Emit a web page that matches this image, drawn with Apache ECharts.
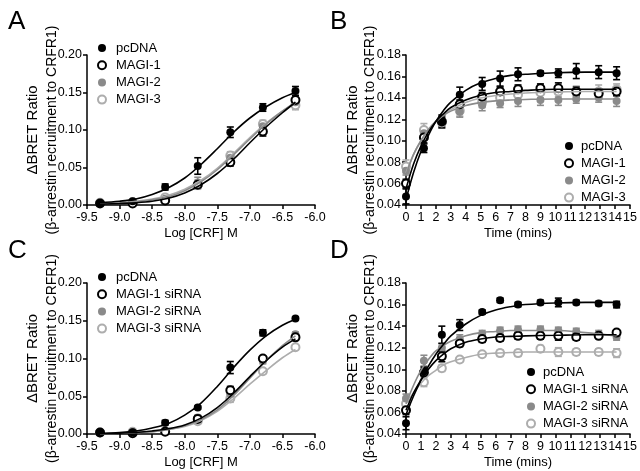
<html>
<head>
<meta charset="utf-8">
<title>BRET</title>
<script src="https://cdn.jsdelivr.net/npm/echarts@6/dist/echarts.min.js"></script>
<style>
  html, body { margin: 0; padding: 0; background: #fff; }
  #main { width: 640px; height: 471px; }
</style>
</head>
<body>
<div id="main"></div>
<script type="text/javascript">
// x values of the measured points
var doseX = [-9.3, -8.8, -8.3, -7.8, -7.3, -6.8, -6.3];
var timeX = [0, 1.2, 2.4, 3.6, 5.1, 6.3, 7.5, 9.0, 10.2, 11.4, 12.9, 14.1];
// x values where the fitted curves were read
var fitDoseX = [-9.3, -9.0, -8.75, -8.5, -8.25, -8.0, -7.75, -7.5, -7.25, -7.0, -6.75, -6.5, -6.3];
var fitTimeX = [0, 0.5, 1, 1.5, 2, 2.5, 3, 4, 5, 6, 7, 8, 10, 12, 14.1];

// panel A - dose response, overexpression
var aPcdna = [0.002, 0.005, 0.024, 0.052, 0.097, 0.130, 0.152];
var aPcdnaErr = [0.001, 0.002, 0.004, 0.011, 0.007, 0.005, 0.006];
var aMagi1 = [0.002, 0.002, 0.006, 0.027, 0.057, 0.098, 0.140];
var aMagi1Err = [0.001, 0.001, 0.002, 0.004, 0.005, 0.006, 0.006];
var aMagi2 = [0.002, 0.003, 0.008, 0.030, 0.063, 0.105, 0.137];
var aMagi2Err = [0.001, 0.001, 0.003, 0.007, 0.005, 0.005, 0.005];
var aMagi3 = [0.003, 0.004, 0.010, 0.027, 0.066, 0.108, 0.133];
var aMagi3Err = [0.001, 0.001, 0.004, 0.006, 0.005, 0.005, 0.006];
var aPcdnaFit = [0.003, 0.005, 0.008, 0.014, 0.023, 0.036, 0.054, 0.075, 0.097, 0.116, 0.131, 0.143, 0.150];
var aMagi1Fit = [0.001, 0.002, 0.003, 0.005, 0.009, 0.016, 0.027, 0.042, 0.061, 0.083, 0.104, 0.123, 0.137];
var aMagi2Fit = [0.002, 0.003, 0.004, 0.007, 0.011, 0.019, 0.031, 0.047, 0.067, 0.088, 0.108, 0.125, 0.137];
var aMagi3Fit = [0.002, 0.003, 0.005, 0.008, 0.013, 0.021, 0.033, 0.049, 0.069, 0.090, 0.109, 0.125, 0.136];

// panel B - time course, overexpression
var bPcdna = [0.048, 0.093, 0.118, 0.143, 0.153, 0.158, 0.162, 0.163, 0.163, 0.165, 0.164, 0.163];
var bPcdnaErr = [0.007, 0.004, 0.006, 0.007, 0.006, 0.007, 0.006, 0.002, 0.004, 0.007, 0.006, 0.006];
var bMagi1 = [0.060, 0.103, 0.118, 0.134, 0.141, 0.146, 0.148, 0.149, 0.149, 0.146, 0.144, 0.146];
var bMagi1Err = [0.004, 0.005, 0.004, 0.004, 0.004, 0.004, 0.004, 0.004, 0.005, 0.004, 0.004, 0.004];
var bMagi2 = [0.072, 0.107, 0.118, 0.127, 0.133, 0.135, 0.137, 0.138, 0.138, 0.139, 0.140, 0.137];
var bMagi2Err = [0.004, 0.005, 0.005, 0.005, 0.005, 0.004, 0.005, 0.005, 0.005, 0.004, 0.004, 0.005];
var bMagi3 = [0.076, 0.110, 0.117, 0.128, 0.136, 0.140, 0.143, 0.145, 0.146, 0.146, 0.146, 0.148];
var bMagi3Err = [0.006, 0.006, 0.005, 0.005, 0.005, 0.005, 0.005, 0.005, 0.005, 0.005, 0.006, 0.005];
var bPcdnaFit = [0.045, 0.070, 0.090, 0.105, 0.118, 0.128, 0.136, 0.147, 0.154, 0.158, 0.161, 0.162, 0.1635, 0.164, 0.164];
var bMagi1Fit = [0.055, 0.078, 0.095, 0.108, 0.118, 0.125, 0.131, 0.138, 0.1425, 0.145, 0.146, 0.147, 0.148, 0.148, 0.148];
var bMagi2Fit = [0.068, 0.087, 0.100, 0.1105, 0.118, 0.1235, 0.1276, 0.1328, 0.1356, 0.1372, 0.138, 0.1385, 0.139, 0.139, 0.139];
var bMagi3Fit = [0.070, 0.087, 0.100, 0.110, 0.118, 0.124, 0.129, 0.1357, 0.1398, 0.1422, 0.1436, 0.1446, 0.1455, 0.146, 0.146];

// panel C - dose response, siRNA
var cPcdna = [0.002, 0.002, 0.015, 0.035, 0.088, 0.134, 0.153];
var cPcdnaErr = [0.001, 0.001, 0.003, 0.002, 0.008, 0.004, 0.002];
var cMagi1 = [0.002, 0.001, 0.003, 0.020, 0.058, 0.100, 0.128];
var cMagi1Err = [0.001, 0.001, 0.002, 0.003, 0.005, 0.003, 0.003];
var cMagi2 = [0.001, 0.002, 0.004, 0.022, 0.053, 0.097, 0.132];
var cMagi2Err = [0.001, 0.001, 0.002, 0.003, 0.005, 0.004, 0.003];
var cMagi3 = [0.002, 0.003, 0.004, 0.017, 0.047, 0.083, 0.115];
var cMagi3Err = [0.001, 0.001, 0.002, 0.003, 0.005, 0.003, 0.003];
var cPcdnaFit = [0.001, 0.002, 0.004, 0.008, 0.014, 0.025, 0.041, 0.063, 0.088, 0.111, 0.130, 0.144, 0.152];
var cMagi1Fit = [0.000, 0.001, 0.002, 0.004, 0.007, 0.012, 0.021, 0.035, 0.054, 0.076, 0.097, 0.115, 0.126];
var cMagi2Fit = [0.000, 0.001, 0.002, 0.003, 0.006, 0.011, 0.019, 0.032, 0.051, 0.074, 0.097, 0.117, 0.130];
var cMagi3Fit = [0.000, 0.001, 0.002, 0.003, 0.006, 0.010, 0.018, 0.030, 0.047, 0.066, 0.084, 0.101, 0.112];

// panel D - time course, siRNA
var dPcdna = [0.050, 0.098, 0.132, 0.141, 0.153, 0.164, 0.160, 0.162, 0.162, 0.162, 0.161, 0.160];
var dPcdnaErr = [0.006, 0.004, 0.008, 0.005, 0.002, 0.002, 0.002, 0.002, 0.004, 0.002, 0.002, 0.003];
var dMagi1 = [0.062, 0.097, 0.112, 0.124, 0.128, 0.129, 0.131, 0.131, 0.131, 0.130, 0.131, 0.134];
var dMagi1Err = [0.004, 0.003, 0.005, 0.003, 0.003, 0.003, 0.003, 0.003, 0.004, 0.003, 0.002, 0.002];
var dMagi2 = [0.073, 0.108, 0.120, 0.128, 0.133, 0.136, 0.137, 0.137, 0.136, 0.135, 0.133, 0.130];
var dMagi2Err = [0.004, 0.005, 0.004, 0.004, 0.003, 0.003, 0.003, 0.003, 0.003, 0.003, 0.003, 0.003];
var dMagi3 = [0.068, 0.088, 0.101, 0.109, 0.114, 0.115, 0.115, 0.119, 0.116, 0.116, 0.116, 0.115];
var dMagi3Err = [0.005, 0.004, 0.003, 0.002, 0.002, 0.003, 0.003, 0.003, 0.004, 0.003, 0.003, 0.004];
var dPcdnaFit = [0.058, 0.075, 0.090, 0.103, 0.114, 0.123, 0.131, 0.142, 0.150, 0.155, 0.158, 0.160, 0.1615, 0.162, 0.162];
var dMagi1Fit = [0.062, 0.078, 0.090, 0.100, 0.108, 0.114, 0.119, 0.125, 0.128, 0.130, 0.1305, 0.131, 0.1315, 0.132, 0.132];
var dMagi2Fit = [0.068, 0.085, 0.099, 0.109, 0.117, 0.122, 0.126, 0.131, 0.134, 0.135, 0.136, 0.136, 0.136, 0.134, 0.131];
var dMagi3Fit = [0.068, 0.078, 0.087, 0.094, 0.099, 0.104, 0.107, 0.111, 0.114, 0.115, 0.1155, 0.116, 0.116, 0.116, 0.116];

var namesA = ['pcDNA', 'MAGI-1', 'MAGI-2', 'MAGI-3'];
var namesC = ['pcDNA', 'MAGI-1 siRNA', 'MAGI-2 siRNA', 'MAGI-3 siRNA'];

var FONT = '"Liberation Sans", Arial, sans-serif';
// marker look per group: pcDNA, MAGI-1, MAGI-2, MAGI-3
var looks = [
    { color: '#000', fill: '#000' },
    { color: '#000', fill: '#fff' },
    { color: '#8a8a8a', fill: '#8a8a8a' },
    { color: '#adadad', fill: '#fff' }
];

function zip(xs, ys, es) {
    var out = [];
    for (var i = 0; i < xs.length; i++) {
        out.push(es ? [xs[i], ys[i], es[i]] : [xs[i], ys[i]]);
    }
    return out;
}

function errRender(color) {
    return function (params, api) {
        var x = api.value(0), y = api.value(1), e = api.value(2);
        var p1 = api.coord([x, y + e]);
        var p2 = api.coord([x, y - e]);
        var w = 3.5;
        var st = { stroke: color, lineWidth: 1.6 };
        return {
            type: 'group',
            children: [
                { type: 'line', shape: { x1: p1[0], y1: p1[1], x2: p2[0], y2: p2[1] }, style: st },
                { type: 'line', shape: { x1: p1[0] - w, y1: p1[1], x2: p1[0] + w, y2: p1[1] }, style: st },
                { type: 'line', shape: { x1: p2[0] - w, y1: p2[1], x2: p2[0] + w, y2: p2[1] }, style: st }
            ]
        };
    };
}

var series = [];
function addPanel(idx, names, xs, fitXs, means, errs, fits) {
    // draw light groups first so pcDNA sits on top
    for (var g = 3; g >= 0; g--) {
        var lk = looks[g];
        series.push({
            name: names[g] + ' fit', type: 'line', xAxisIndex: idx, yAxisIndex: idx,
            data: zip(fitXs, fits[g]), smooth: 0.35, showSymbol: false, silent: true,
            lineStyle: { color: lk.color, width: 1.6 }
        });
        series.push({
            name: names[g] + ' err', type: 'custom', xAxisIndex: idx, yAxisIndex: idx,
            data: zip(xs, means[g], errs[g]), renderItem: errRender(lk.color), silent: true
        });
        series.push({
            name: names[g], type: 'scatter', xAxisIndex: idx, yAxisIndex: idx,
            data: zip(xs, means[g]), symbol: 'circle', symbolSize: 8,
            itemStyle: { color: lk.fill, borderColor: lk.color, borderWidth: lk.fill === '#fff' ? 2 : 0, opacity: 1 }
        });
    }
}

addPanel(0, namesA, doseX, fitDoseX, [aPcdna, aMagi1, aMagi2, aMagi3], [aPcdnaErr, aMagi1Err, aMagi2Err, aMagi3Err], [aPcdnaFit, aMagi1Fit, aMagi2Fit, aMagi3Fit]);
addPanel(1, namesA, timeX, fitTimeX, [bPcdna, bMagi1, bMagi2, bMagi3], [bPcdnaErr, bMagi1Err, bMagi2Err, bMagi3Err], [bPcdnaFit, bMagi1Fit, bMagi2Fit, bMagi3Fit]);
addPanel(2, namesC, doseX, fitDoseX, [cPcdna, cMagi1, cMagi2, cMagi3], [cPcdnaErr, cMagi1Err, cMagi2Err, cMagi3Err], [cPcdnaFit, cMagi1Fit, cMagi2Fit, cMagi3Fit]);
addPanel(3, namesC, timeX, fitTimeX, [dPcdna, dMagi1, dMagi2, dMagi3], [dPcdnaErr, dMagi1Err, dMagi2Err, dMagi3Err], [dPcdnaFit, dMagi1Fit, dMagi2Fit, dMagi3Fit]);

var axisLine = { lineStyle: { color: '#000', width: 1.5 } };
var axisTick = { inside: false, length: 4, lineStyle: { color: '#000', width: 1.5 } };
var labelBase = { color: '#000', fontSize: 12.5, fontFamily: FONT };

function xAxisDose(i) {
    return {
        type: 'value', gridIndex: i, min: -9.5, max: -6.0, interval: 0.5,
        axisLine: axisLine, axisTick: axisTick, splitLine: { show: false },
        axisLabel: Object.assign({ margin: 6, formatter: function (v) { return v.toFixed(1); } }, labelBase),
        name: 'Log [CRF] M', nameLocation: 'middle', nameGap: 22, nameMoveOverlap: false,
        nameTextStyle: { color: '#000', fontSize: 13, fontFamily: FONT }
    };
}
function xAxisTime(i) {
    return {
        type: 'value', gridIndex: i, min: 0, max: 15, interval: 1,
        axisLine: axisLine, axisTick: axisTick, splitLine: { show: false },
        axisLabel: Object.assign({ margin: 6 }, labelBase),
        name: 'Time (mins)', nameLocation: 'middle', nameGap: 22, nameMoveOverlap: false,
        nameTextStyle: { color: '#000', fontSize: 13, fontFamily: FONT }
    };
}
function yAxis(i, min, max, step, gap, lh) {
    return {
        type: 'value', gridIndex: i, min: min, max: max, interval: step,
        axisLine: Object.assign({ show: true }, axisLine), axisTick: Object.assign({ show: true }, axisTick),
        splitLine: { show: false },
        axisLabel: Object.assign({ margin: 5, formatter: function (v) { return v.toFixed(2); } }, labelBase),
        name: '{a|ΔBRET Ratio}\n{b|(β-arrestin recruitment to CRFR1)}',
        nameLocation: 'middle', nameGap: gap, nameMoveOverlap: false,
        nameTextStyle: {
            color: '#000', fontFamily: FONT,
            rich: {
                a: { fontSize: 15, lineHeight: lh, fontFamily: FONT, color: '#000' },
                b: { fontSize: 14, lineHeight: lh, fontFamily: FONT, color: '#000' }
            }
        }
    };
}

function legendAt(names, left, top, pad) {
    return {
        orient: 'vertical', left: left, top: top, padding: 0,
        data: names.map(function (n) { return { name: n, icon: 'circle' }; }),
        itemWidth: 12, itemHeight: 8, itemGap: 3.2, selectedMode: false,
        textStyle: { color: '#000', fontSize: 13, fontFamily: FONT, lineHeight: 14, padding: [0, 0, 0, pad] }
    };
}

var letterStyle = { color: '#000', fontSize: 26, fontWeight: 'normal', fontFamily: FONT };

var myChart = echarts.init(document.getElementById('main'), null, { renderer: 'canvas' });
var option = {
    backgroundColor: '#fff',
    animation: false,
    title: [
        { text: 'A', left: 3, top: 4, textStyle: letterStyle },
        { text: 'B', left: 325, top: 4, textStyle: letterStyle },
        { text: 'C', left: 3, top: 233, textStyle: letterStyle },
        { text: 'D', left: 325, top: 233, textStyle: letterStyle }
    ],
    legend: [
        legendAt(namesA, 97, 41, 3),
        legendAt(namesA, 564, 139, 1),
        legendAt(namesC, 97, 270, 3),
        legendAt(namesC, 526, 365, 1)
    ],
    grid: [
        { left: 87, right: 325, top: 55, bottom: 266 },
        { left: 406, right: 7, top: 55, bottom: 266 },
        { left: 87, right: 325, top: 283, bottom: 37 },
        { left: 406, right: 7, top: 283, bottom: 37 }
    ],
    xAxis: [xAxisDose(0), xAxisTime(1), xAxisDose(2), xAxisTime(3)],
    yAxis: [
        yAxis(0, 0, 0.2, 0.05, 25.5, 19),
        yAxis(1, 0.04, 0.18, 0.02, 27.5, 17),
        yAxis(2, 0, 0.2, 0.05, 25.5, 19),
        yAxis(3, 0.04, 0.18, 0.02, 27.5, 17)
    ],
    series: series
};
myChart.setOption(option);
</script>
</body>
</html>
